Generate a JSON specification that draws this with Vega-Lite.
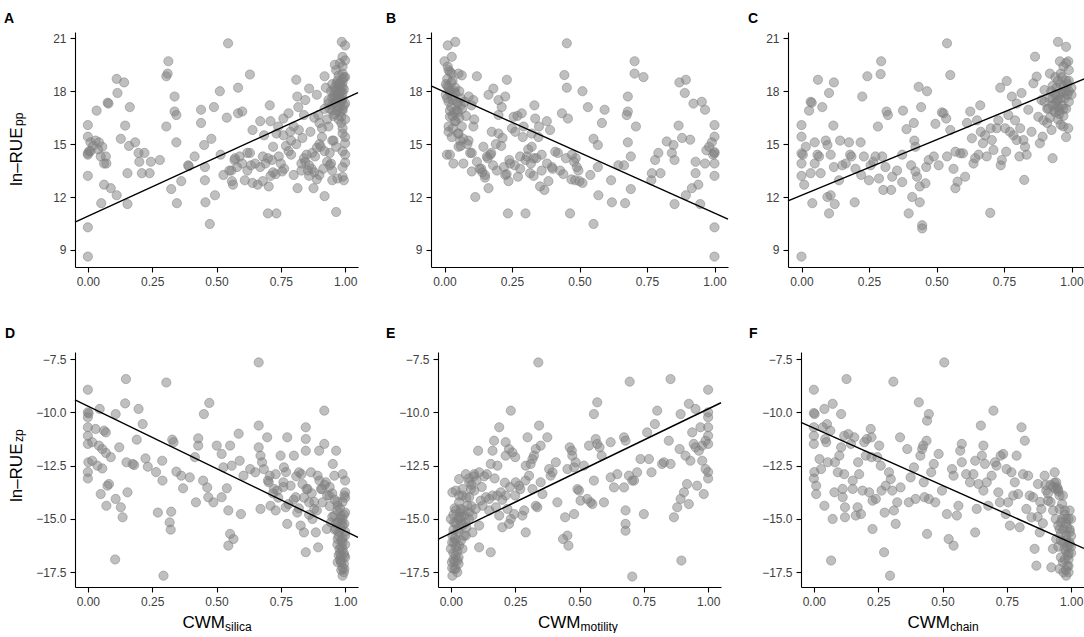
{
"$schema": "https://vega.github.io/schema/vega-lite/v6.json",
"background": "white",
"padding": {"left": 4, "top": 11, "right": 0, "bottom": 0},
"config": {
 "view": {"stroke": null},
 "font": "Liberation Sans",
 "axis": {"grid": false, "domainColor": "#000", "domainWidth": 1.1, "tickColor": "#000", "tickWidth": 1.1, "tickSize": 5, "labelFont": "Liberation Sans", "labelFontSize": 12, "labelColor": "#404040", "labelPadding": 4, "labelFlush": false, "labelOverlap": false, "titleFont": "Liberation Sans", "titleFontSize": 17, "titleFontWeight": "normal", "titleColor": "#000"},
 "title": {"font": "Liberation Sans", "fontSize": 14, "fontWeight": "bold", "color": "#000", "anchor": "start", "frame": "group", "baseline": "alphabetic"},
 "circle": {"size": 85, "fill": "#808080", "fillOpacity": 0.5, "stroke": "#808080", "strokeOpacity": 0.5, "strokeWidth": 1},
 "line": {"color": "#000", "strokeWidth": 1.4},
 "text": {"font": "Liberation Sans", "color": "#000"}
},
"datasets": {
"A": [{"x":0,"y":8.62},{"x":0,"y":10.28},{"x":0,"y":16.08},{"x":0,"y":15.42},{"x":0,"y":14.48},{"x":0.01,"y":14.6},{"x":0,"y":13.2},{"x":0.01,"y":15.1},{"x":0.034,"y":16.9},{"x":0.043,"y":15.1},{"x":0.056,"y":14.85},{"x":0.052,"y":11.65},{"x":0.063,"y":12.7},{"x":0.063,"y":13.9},{"x":0.077,"y":17.35},{"x":0.08,"y":17.3},{"x":0.07,"y":14.3},{"x":0.072,"y":13.9},{"x":0.089,"y":12.5},{"x":0.112,"y":12.1},{"x":0.112,"y":18.7},{"x":0.115,"y":17.9},{"x":0.141,"y":18.5},{"x":0.128,"y":15.3},{"x":0.145,"y":16.05},{"x":0.154,"y":13.35},{"x":0.154,"y":11.6},{"x":0.163,"y":17.1},{"x":0.16,"y":14.9},{"x":0.184,"y":15.1},{"x":0.197,"y":14.5},{"x":0.2,"y":14.0},{"x":0.21,"y":13.35},{"x":0.22,"y":14.5},{"x":0.24,"y":13.35},{"x":0.245,"y":14.0},{"x":0.28,"y":14.1},{"x":0.305,"y":18.85},{"x":0.31,"y":19.0},{"x":0.313,"y":19.7},{"x":0.305,"y":16.0},{"x":0.324,"y":12.45},{"x":0.337,"y":17.7},{"x":0.337,"y":16.85},{"x":0.344,"y":16.65},{"x":0.344,"y":15.1},{"x":0.346,"y":11.65},{"x":0.363,"y":12.9},{"x":0.39,"y":13.8},{"x":0.392,"y":13.75},{"x":0.415,"y":14.3},{"x":0.44,"y":16.95},{"x":0.44,"y":16.2},{"x":0.452,"y":14.95},{"x":0.455,"y":13.7},{"x":0.455,"y":12.95},{"x":0.457,"y":11.7},{"x":0.474,"y":10.47},{"x":0.48,"y":15.3},{"x":0.49,"y":17.1},{"x":0.494,"y":12.1},{"x":0.513,"y":18.0},{"x":0.516,"y":14.4},{"x":0.527,"y":13.25},{"x":0.545,"y":20.72},{"x":0.54,"y":16.5},{"x":0.558,"y":13.5},{"x":0.564,"y":12.7},{"x":0.572,"y":14.2},{"x":0.584,"y":18.2},{"x":0.584,"y":16.75},{"x":0.59,"y":14.3},{"x":0.6,"y":16.85},{"x":0.61,"y":12.95},{"x":0.62,"y":13.5},{"x":0.63,"y":18.95},{"x":0.63,"y":14.5},{"x":0.634,"y":13.8},{"x":0.64,"y":15.8},{"x":0.67,"y":16.3},{"x":0.68,"y":12.9},{"x":0.685,"y":15.5},{"x":0.7,"y":11.07},{"x":0.703,"y":12.6},{"x":0.707,"y":17.2},{"x":0.71,"y":16.3},{"x":0.716,"y":14.1},{"x":0.72,"y":14.85},{"x":0.733,"y":11.07},{"x":0.733,"y":15.6},{"x":0.742,"y":14.3},{"x":0.755,"y":13.45},{"x":0.76,"y":16.45},{"x":0.763,"y":13.6},{"x":0.78,"y":16.75},{"x":0.787,"y":15.7},{"x":0.79,"y":14.4},{"x":0.8,"y":13.25},{"x":0.81,"y":18.65},{"x":0.814,"y":17.7},{"x":0.815,"y":12.5},{"x":0.818,"y":17.1},{"x":0.83,"y":13.9},{"x":0.834,"y":15.35},{"x":0.84,"y":16.65},{"x":0.845,"y":17.5},{"x":0.855,"y":13.5},{"x":0.86,"y":18.15},{"x":0.865,"y":15.7},{"x":0.872,"y":14.5},{"x":0.877,"y":12.5},{"x":0.883,"y":14.3},{"x":0.89,"y":17.8},{"x":0.896,"y":16.65},{"x":0.9,"y":13.25},{"x":0.905,"y":14.85},{"x":0.915,"y":13.6},{"x":0.92,"y":12.05},{"x":0.92,"y":18.85},{"x":0.935,"y":17.5},{"x":0.935,"y":16.0},{"x":0.94,"y":14.5},{"x":0.95,"y":12.95},{"x":0.95,"y":15.2},{"x":0.965,"y":11.15},{"x":0.967,"y":18.45},{"x":0.97,"y":17.5},{"x":0.98,"y":18.0},{"x":0.985,"y":16.55},{"x":0.987,"y":20.8},{"x":1.0,"y":20.6},{"x":0.99,"y":19.95},{"x":1.0,"y":19.75},{"x":0.99,"y":19.4},{"x":0.99,"y":19.0},{"x":1.0,"y":18.8},{"x":0.98,"y":18.45},{"x":0.99,"y":18.25},{"x":0.995,"y":18.1},{"x":0.99,"y":17.9},{"x":0.97,"y":17.7},{"x":0.985,"y":17.5},{"x":1.0,"y":17.3},{"x":0.975,"y":17.1},{"x":0.99,"y":16.9},{"x":0.96,"y":17.3},{"x":0.95,"y":16.9},{"x":1.0,"y":16.4},{"x":0.99,"y":15.9},{"x":1.0,"y":15.4},{"x":1.0,"y":15.05},{"x":0.99,"y":14.6},{"x":1.0,"y":14.4},{"x":1.0,"y":13.95},{"x":0.99,"y":13.7},{"x":0.995,"y":12.95},{"x":0.99,"y":13.15},{"x":0.97,"y":13.05},{"x":0.955,"y":15.2},{"x":0.965,"y":14.85},{"x":0.945,"y":13.9},{"x":0.95,"y":17.2},{"x":0.96,"y":17.6},{"x":0.97,"y":18.1},{"x":0.98,"y":18.3},{"x":0.99,"y":18.5},{"x":0.975,"y":17.8},{"x":0.985,"y":17.4},{"x":0.96,"y":18.0},{"x":0.97,"y":16.9},{"x":0.99,"y":17.0},{"x":0.95,"y":18.4},{"x":0.965,"y":19.2},{"x":0.98,"y":19.6},{"x":0.995,"y":18.8},{"x":0.94,"y":17.0},{"x":0.955,"y":16.6},{"x":0.985,"y":16.2},{"x":0.93,"y":16.4},{"x":0.99,"y":15.6},{"x":0.975,"y":18.9},{"x":0.96,"y":19.5},{"x":0.945,"y":18.0},{"x":0.935,"y":17.3},{"x":0.925,"y":18.2},{"x":0.92,"y":17.0},{"x":0.84,"y":14.2},{"x":0.845,"y":14.0},{"x":0.85,"y":14.4},{"x":0.86,"y":13.8},{"x":0.87,"y":13.6},{"x":0.88,"y":13.4},{"x":0.89,"y":13.0},{"x":0.86,"y":13.2},{"x":0.9,"y":15.0},{"x":0.91,"y":15.4},{"x":0.92,"y":14.6},{"x":0.93,"y":14.0},{"x":0.94,"y":13.8},{"x":0.95,"y":13.5},{"x":0.9,"y":16.2},{"x":0.88,"y":16.5},{"x":0.91,"y":15.9},{"x":0.89,"y":14.8},{"x":0.8,"y":16.0},{"x":0.79,"y":15.2},{"x":0.78,"y":14.6},{"x":0.77,"y":14.9},{"x":0.76,"y":15.5},{"x":0.74,"y":16.0},{"x":0.73,"y":13.3},{"x":0.7,"y":14.2},{"x":0.69,"y":13.9},{"x":0.68,"y":14.3},{"x":0.67,"y":13.7},{"x":0.65,"y":13.9},{"x":0.66,"y":12.7},{"x":0.64,"y":12.8},{"x":0.62,"y":14.5},{"x":0.6,"y":13.9},{"x":0.58,"y":13.7},{"x":0.57,"y":14.1},{"x":0.56,"y":12.9},{"x":0.55,"y":13.5},{"x":0.72,"y":13.4},{"x":0.71,"y":13.2},{"x":0.75,"y":13.9},{"x":0.81,"y":15.0},{"x":0.82,"y":15.8},{"x":0.83,"y":13.5},{"x":0,"y":14.4},{"x":0.005,"y":14.6},{"x":0.02,"y":14.9},{"x":0.03,"y":15.2},{"x":0.04,"y":14.7},{"x":0.05,"y":14.3},{"x":0.97,"y":17.9},{"x":0.98,"y":17.6},{"x":0.96,"y":18.2},{"x":0.975,"y":18.4},{"x":0.985,"y":18.0},{"x":0.955,"y":17.8},{"x":0.965,"y":17.4},{"x":0.98,"y":16.8},{"x":0.99,"y":17.6},{"x":0.995,"y":17.2},{"x":0.97,"y":18.6},{"x":0.96,"y":16.7},{"x":0.95,"y":17.6},{"x":0.99,"y":18.7},{"x":0.975,"y":16.4}],
"B": [{"x":1,"y":8.62},{"x":1,"y":10.28},{"x":1,"y":16.08},{"x":1,"y":15.42},{"x":1,"y":14.48},{"x":1,"y":14.55},{"x":0.995,"y":14.4},{"x":1,"y":13.2},{"x":1,"y":13.9},{"x":0.99,"y":15.1},{"x":0.98,"y":14.85},{"x":0.965,"y":13.9},{"x":0.97,"y":14.65},{"x":0.947,"y":11.6},{"x":0.94,"y":12.7},{"x":0.965,"y":16.95},{"x":0.953,"y":17.4},{"x":0.93,"y":14.0},{"x":0.93,"y":13.35},{"x":0.916,"y":12.5},{"x":0.894,"y":12.1},{"x":0.922,"y":17.3},{"x":0.91,"y":15.25},{"x":0.894,"y":18.65},{"x":0.89,"y":17.9},{"x":0.87,"y":18.5},{"x":0.88,"y":15.35},{"x":0.867,"y":16.05},{"x":0.852,"y":11.6},{"x":0.852,"y":14.1},{"x":0.848,"y":14.95},{"x":0.842,"y":14.5},{"x":0.823,"y":15.15},{"x":0.8,"y":13.35},{"x":0.792,"y":14.5},{"x":0.78,"y":14.1},{"x":0.768,"y":13.35},{"x":0.766,"y":12.95},{"x":0.737,"y":18.8},{"x":0.704,"y":19.0},{"x":0.704,"y":19.7},{"x":0.709,"y":16.0},{"x":0.69,"y":14.3},{"x":0.69,"y":12.45},{"x":0.679,"y":17.7},{"x":0.679,"y":16.85},{"x":0.675,"y":16.65},{"x":0.679,"y":15.1},{"x":0.669,"y":11.65},{"x":0.665,"y":13.8},{"x":0.644,"y":13.8},{"x":0.617,"y":12.95},{"x":0.62,"y":11.7},{"x":0.593,"y":16.95},{"x":0.583,"y":16.2},{"x":0.568,"y":14.95},{"x":0.568,"y":13.7},{"x":0.57,"y":12.1},{"x":0.552,"y":10.47},{"x":0.552,"y":15.3},{"x":0.531,"y":17.1},{"x":0.54,"y":13.25},{"x":0.511,"y":18.0},{"x":0.511,"y":12.8},{"x":0.496,"y":13.5},{"x":0.486,"y":14.2},{"x":0.484,"y":12.95},{"x":0.472,"y":14.4},{"x":0.465,"y":11.07},{"x":0.457,"y":16.45},{"x":0.453,"y":20.72},{"x":0.453,"y":18.2},{"x":0.444,"y":18.92},{"x":0.435,"y":16.75},{"x":0.428,"y":13.5},{"x":0.41,"y":14.57},{"x":0.398,"y":13.7},{"x":0.391,"y":15.8},{"x":0.385,"y":12.9},{"x":0.379,"y":16.3},{"x":0.37,"y":12.4},{"x":0.36,"y":14.4},{"x":0.354,"y":12.6},{"x":0.348,"y":15.4},{"x":0.336,"y":16.45},{"x":0.333,"y":17.2},{"x":0.33,"y":14.2},{"x":0.323,"y":14.85},{"x":0.323,"y":15.6},{"x":0.317,"y":13.35},{"x":0.305,"y":14.3},{"x":0.3,"y":11.07},{"x":0.293,"y":16.0},{"x":0.286,"y":16.75},{"x":0.28,"y":13.6},{"x":0.272,"y":13.15},{"x":0.262,"y":15.7},{"x":0.256,"y":16.55},{"x":0.243,"y":13.9},{"x":0.237,"y":12.9},{"x":0.235,"y":11.07},{"x":0.231,"y":18.65},{"x":0.225,"y":17.7},{"x":0.225,"y":13.25},{"x":0.215,"y":15.35},{"x":0.212,"y":17.1},{"x":0.2,"y":16.65},{"x":0.2,"y":17.5},{"x":0.194,"y":13.5},{"x":0.181,"y":18.15},{"x":0.175,"y":15.7},{"x":0.173,"y":14.5},{"x":0.163,"y":12.5},{"x":0.157,"y":14.3},{"x":0.163,"y":17.8},{"x":0.15,"y":13.25},{"x":0.144,"y":14.85},{"x":0.136,"y":13.6},{"x":0.114,"y":12.0},{"x":0.12,"y":18.85},{"x":0.107,"y":17.5},{"x":0.107,"y":16.0},{"x":0.101,"y":14.5},{"x":0.101,"y":13.45},{"x":0.089,"y":15.2},{"x":0.07,"y":13.9},{"x":0.058,"y":15.2},{"x":0.052,"y":14.85},{"x":0.033,"y":13.9},{"x":0.009,"y":14.4},{"x":0.015,"y":16.0},{"x":0.04,"y":20.8},{"x":0.012,"y":20.6},{"x":0.027,"y":19.95},{"x":0,"y":19.7},{"x":0.012,"y":19.4},{"x":0.027,"y":19.0},{"x":0.052,"y":19.0},{"x":0.064,"y":18.9},{"x":0.02,"y":16.55},{"x":0.04,"y":16.3},{"x":0.015,"y":15.7},{"x":0.027,"y":15.4},{"x":0.052,"y":15.6},{"x":0.064,"y":16.0},{"x":0.01,"y":18.3},{"x":0.02,"y":18.0},{"x":0.03,"y":17.7},{"x":0.015,"y":17.4},{"x":0.025,"y":17.1},{"x":0.035,"y":16.8},{"x":0.045,"y":16.9},{"x":0.05,"y":17.3},{"x":0.06,"y":17.6},{"x":0.01,"y":18.7},{"x":0.02,"y":19.1},{"x":0.03,"y":18.6},{"x":0.04,"y":18.2},{"x":0.005,"y":17.8},{"x":0.055,"y":18.0},{"x":0.065,"y":17.0},{"x":0.075,"y":17.4},{"x":0.08,"y":16.6},{"x":0.09,"y":17.7},{"x":0.1,"y":17.2},{"x":0.11,"y":16.4},{"x":0.04,"y":16.3},{"x":0.03,"y":15.9},{"x":0.05,"y":15.6},{"x":0.07,"y":15.3},{"x":0.085,"y":15.0},{"x":0.095,"y":14.5},{"x":0.06,"y":14.9},{"x":0.02,"y":14.4},{"x":0.12,"y":14.0},{"x":0.13,"y":13.6},{"x":0.14,"y":13.4},{"x":0.15,"y":13.1},{"x":0.16,"y":14.2},{"x":0.17,"y":14.4},{"x":0.18,"y":13.8},{"x":0.19,"y":15.0},{"x":0.2,"y":15.6},{"x":0.21,"y":14.9},{"x":0.22,"y":13.7},{"x":0.23,"y":13.3},{"x":0.24,"y":14.1},{"x":0.26,"y":13.8},{"x":0.28,"y":14.3},{"x":0.3,"y":14.1},{"x":0.32,"y":13.9},{"x":0.34,"y":14.2},{"x":0.36,"y":13.5},{"x":0.38,"y":13.9},{"x":0.25,"y":15.9},{"x":0.27,"y":16.6},{"x":0.29,"y":15.4},{"x":0.31,"y":14.7},{"x":0.33,"y":13.2},{"x":0.35,"y":16.0},{"x":0.4,"y":13.6},{"x":0.42,"y":14.5},{"x":0.44,"y":13.3},{"x":0.47,"y":13.0},{"x":0.48,"y":14.0},{"x":0.49,"y":13.7},{"x":0.5,"y":12.9},{"x":0.45,"y":14.2},{"x":0.02,"y":17.9},{"x":0.03,"y":17.5},{"x":0.015,"y":18.2},{"x":0.025,"y":18.5},{"x":0.04,"y":17.9},{"x":0.045,"y":17.4},{"x":0.035,"y":18.0},{"x":0.05,"y":16.8},{"x":0.01,"y":17.6},{"x":0.005,"y":18.4},{"x":0.02,"y":16.9},{"x":0.06,"y":17.2},{"x":0.03,"y":16.6},{"x":0.055,"y":16.5},{"x":0.015,"y":19.2}],
"C": [{"x":0,"y":8.62},{"x":0,"y":16.08},{"x":0,"y":15.42},{"x":0,"y":14.48},{"x":0.005,"y":14.4},{"x":0,"y":13.9},{"x":0,"y":13.2},{"x":0.01,"y":12.7},{"x":0.016,"y":14.85},{"x":0.028,"y":16.9},{"x":0.034,"y":17.4},{"x":0.038,"y":17.35},{"x":0.04,"y":11.65},{"x":0.034,"y":13.35},{"x":0.049,"y":13.9},{"x":0.049,"y":15.1},{"x":0.059,"y":14.4},{"x":0.061,"y":18.65},{"x":0.077,"y":17.1},{"x":0.071,"y":13.35},{"x":0.065,"y":14.3},{"x":0.09,"y":15.2},{"x":0.096,"y":14.95},{"x":0.096,"y":12.0},{"x":0.102,"y":11.07},{"x":0.108,"y":12.1},{"x":0.102,"y":17.9},{"x":0.12,"y":18.5},{"x":0.118,"y":16.05},{"x":0.108,"y":14.4},{"x":0.12,"y":13.7},{"x":0.123,"y":11.6},{"x":0.139,"y":12.95},{"x":0.143,"y":15.2},{"x":0.151,"y":13.8},{"x":0.164,"y":13.9},{"x":0.176,"y":15.1},{"x":0.18,"y":14.4},{"x":0.185,"y":14.3},{"x":0.197,"y":11.7},{"x":0.2,"y":13.6},{"x":0.219,"y":15.1},{"x":0.221,"y":13.25},{"x":0.225,"y":17.7},{"x":0.231,"y":14.3},{"x":0.244,"y":18.85},{"x":0.25,"y":12.95},{"x":0.256,"y":13.8},{"x":0.266,"y":14.0},{"x":0.274,"y":14.3},{"x":0.283,"y":16.0},{"x":0.287,"y":13.05},{"x":0.293,"y":18.97},{"x":0.295,"y":19.7},{"x":0.299,"y":14.3},{"x":0.303,"y":12.4},{"x":0.315,"y":16.85},{"x":0.32,"y":16.65},{"x":0.311,"y":13.7},{"x":0.332,"y":12.4},{"x":0.336,"y":13.15},{"x":0.354,"y":13.5},{"x":0.373,"y":12.85},{"x":0.376,"y":16.9},{"x":0.373,"y":14.4},{"x":0.389,"y":15.85},{"x":0.397,"y":11.07},{"x":0.406,"y":13.8},{"x":0.41,"y":12.0},{"x":0.416,"y":16.2},{"x":0.418,"y":15.2},{"x":0.422,"y":14.85},{"x":0.422,"y":13.45},{"x":0.428,"y":13.15},{"x":0.434,"y":18.25},{"x":0.438,"y":12.6},{"x":0.438,"y":11.7},{"x":0.443,"y":17.1},{"x":0.447,"y":10.4},{"x":0.447,"y":10.22},{"x":0.459,"y":12.78},{"x":0.462,"y":13.7},{"x":0.465,"y":18.0},{"x":0.471,"y":14.1},{"x":0.49,"y":14.3},{"x":0.496,"y":16.15},{"x":0.508,"y":13.8},{"x":0.52,"y":16.8},{"x":0.526,"y":16.75},{"x":0.536,"y":16.45},{"x":0.539,"y":20.72},{"x":0.539,"y":14.3},{"x":0.551,"y":18.92},{"x":0.551,"y":15.8},{"x":0.563,"y":13.6},{"x":0.57,"y":12.5},{"x":0.57,"y":14.57},{"x":0.578,"y":12.87},{"x":0.588,"y":14.48},{"x":0.598,"y":14.48},{"x":0.606,"y":13.15},{"x":0.613,"y":16.2},{"x":0.625,"y":16.85},{"x":0.631,"y":15.33},{"x":0.637,"y":13.9},{"x":0.643,"y":14.2},{"x":0.65,"y":16.35},{"x":0.662,"y":17.2},{"x":0.664,"y":15.7},{"x":0.656,"y":14.4},{"x":0.672,"y":15.05},{"x":0.68,"y":15.5},{"x":0.686,"y":14.3},{"x":0.699,"y":11.1},{"x":0.705,"y":15.23},{"x":0.701,"y":15.9},{"x":0.711,"y":14.67},{"x":0.723,"y":15.9},{"x":0.729,"y":16.35},{"x":0.738,"y":13.8},{"x":0.742,"y":14.1},{"x":0.736,"y":18.2},{"x":0.758,"y":14.57},{"x":0.76,"y":18.58},{"x":0.754,"y":15.9},{"x":0.766,"y":16.65},{"x":0.772,"y":15.7},{"x":0.779,"y":17.7},{"x":0.785,"y":15.5},{"x":0.791,"y":16.35},{"x":0.797,"y":17.3},{"x":0.797,"y":15.23},{"x":0.807,"y":14.3},{"x":0.81,"y":15.9},{"x":0.815,"y":17.9},{"x":0.822,"y":15.23},{"x":0.825,"y":12.97},{"x":0.828,"y":14.85},{"x":0.834,"y":14.4},{"x":0.84,"y":16.95},{"x":0.852,"y":15.7},{"x":0.859,"y":18.45},{"x":0.865,"y":19.96},{"x":0.871,"y":18.83},{"x":0.877,"y":16.55},{"x":0.883,"y":15.05},{"x":0.889,"y":17.5},{"x":0.893,"y":15.42},{"x":0.896,"y":16.35},{"x":0.9,"y":18.07},{"x":0.92,"y":19.0},{"x":0.93,"y":14.2},{"x":0.914,"y":17.03},{"x":0.926,"y":15.8},{"x":0.95,"y":20.8},{"x":0.98,"y":20.52},{"x":0.957,"y":19.7},{"x":0.988,"y":19.7},{"x":0.97,"y":16.0},{"x":0.98,"y":15.4},{"x":0.988,"y":15.9},{"x":0.9,"y":17.4},{"x":0.91,"y":17.0},{"x":0.92,"y":17.6},{"x":0.93,"y":17.2},{"x":0.94,"y":16.8},{"x":0.95,"y":17.5},{"x":0.96,"y":17.9},{"x":0.97,"y":18.3},{"x":0.98,"y":18.0},{"x":0.99,"y":18.6},{"x":1.0,"y":18.2},{"x":0.95,"y":18.6},{"x":0.96,"y":19.0},{"x":0.97,"y":19.4},{"x":0.98,"y":19.6},{"x":0.99,"y":19.2},{"x":0.93,"y":18.3},{"x":0.94,"y":18.8},{"x":0.92,"y":16.5},{"x":0.91,"y":16.2},{"x":0.95,"y":16.4},{"x":0.97,"y":16.6},{"x":0.98,"y":17.0},{"x":0.99,"y":17.4},{"x":1.0,"y":17.8},{"x":0.96,"y":16.1},{"x":0.94,"y":17.8},{"x":0.925,"y":18.0},{"x":0.965,"y":17.2},{"x":0.975,"y":17.6},{"x":0.985,"y":18.4},{"x":0.955,"y":16.9},{"x":0.945,"y":17.4},{"x":0.95,"y":17.8},{"x":0.96,"y":17.6},{"x":0.97,"y":17.9},{"x":0.94,"y":17.3},{"x":0.96,"y":18.4},{"x":0.95,"y":17.1},{"x":0.97,"y":17.0},{"x":0.98,"y":18.6},{"x":0.935,"y":16.9},{"x":0.965,"y":18.8},{"x":0.945,"y":18.2},{"x":0.955,"y":16.7},{"x":0.985,"y":17.8},{"x":0.99,"y":18.0},{"x":0.93,"y":17.6}],
"D": [{"x":0.664,"y":-7.66},{"x":0,"y":-8.94},{"x":0,"y":-10.0},{"x":0.003,"y":-10.05},{"x":0,"y":-10.23},{"x":0,"y":-10.7},{"x":0,"y":-11.1},{"x":0,"y":-11.48},{"x":0.002,"y":-12.34},{"x":0,"y":-12.8},{"x":0,"y":-13.1},{"x":0.017,"y":-11.4},{"x":0.03,"y":-10.78},{"x":0.043,"y":-11.56},{"x":0.046,"y":-9.84},{"x":0.056,"y":-11.72},{"x":0.063,"y":-10.86},{"x":0.07,"y":-10.94},{"x":0.056,"y":-12.63},{"x":0.05,"y":-13.83},{"x":0.07,"y":-11.9},{"x":0.017,"y":-12.27},{"x":0.037,"y":-12.5},{"x":0.076,"y":-13.44},{"x":0.082,"y":-13.36},{"x":0.072,"y":-14.38},{"x":0.089,"y":-12.1},{"x":0.108,"y":-10.08},{"x":0.106,"y":-16.9},{"x":0.108,"y":-14.06},{"x":0.122,"y":-11.64},{"x":0.128,"y":-14.45},{"x":0.135,"y":-14.92},{"x":0.148,"y":-8.44},{"x":0.145,"y":-9.58},{"x":0.154,"y":-13.75},{"x":0.15,"y":-12.34},{"x":0.174,"y":-12.42},{"x":0.18,"y":-12.47},{"x":0.19,"y":-11.28},{"x":0.197,"y":-9.84},{"x":0.213,"y":-10.55},{"x":0.224,"y":-12.16},{"x":0.233,"y":-12.55},{"x":0.265,"y":-12.8},{"x":0.272,"y":-14.7},{"x":0.289,"y":-12.27},{"x":0.29,"y":-13.2},{"x":0.294,"y":-17.66},{"x":0.305,"y":-8.6},{"x":0.318,"y":-15.16},{"x":0.322,"y":-15.5},{"x":0.324,"y":-14.66},{"x":0.328,"y":-11.28},{"x":0.333,"y":-11.4},{"x":0.344,"y":-12.78},{"x":0.363,"y":-12.97},{"x":0.37,"y":-13.56},{"x":0.396,"y":-13.05},{"x":0.416,"y":-12.1},{"x":0.42,"y":-14.22},{"x":0.429,"y":-11.22},{"x":0.429,"y":-11.56},{"x":0.448,"y":-13.2},{"x":0.451,"y":-10.08},{"x":0.464,"y":-13.52},{"x":0.472,"y":-9.56},{"x":0.468,"y":-13.98},{"x":0.488,"y":-14.22},{"x":0.501,"y":-11.56},{"x":0.52,"y":-11.95},{"x":0.52,"y":-13.98},{"x":0.54,"y":-13.56},{"x":0.546,"y":-16.25},{"x":0.553,"y":-15.7},{"x":0.566,"y":-15.94},{"x":0.527,"y":-12.58},{"x":0.553,"y":-11.56},{"x":0.559,"y":-12.5},{"x":0.546,"y":-14.6},{"x":0.586,"y":-11.0},{"x":0.59,"y":-12.27},{"x":0.595,"y":-14.77},{"x":0.605,"y":-12.97},{"x":0.631,"y":-12.66},{"x":0.651,"y":-12.81},{"x":0.664,"y":-10.62},{"x":0.664,"y":-11.64},{"x":0.671,"y":-12.03},{"x":0.677,"y":-12.34},{"x":0.671,"y":-14.53},{"x":0.684,"y":-12.66},{"x":0.697,"y":-11.17},{"x":0.703,"y":-13.28},{"x":0.707,"y":-12.97},{"x":0.71,"y":-14.38},{"x":0.723,"y":-13.59},{"x":0.73,"y":-14.6},{"x":0.736,"y":-13.67},{"x":0.749,"y":-12.03},{"x":0.76,"y":-13.28},{"x":0.762,"y":-12.58},{"x":0.775,"y":-11.17},{"x":0.769,"y":-14.45},{"x":0.775,"y":-15.23},{"x":0.788,"y":-13.44},{"x":0.801,"y":-12.03},{"x":0.808,"y":-13.98},{"x":0.814,"y":-14.7},{"x":0.821,"y":-12.81},{"x":0.827,"y":-15.31},{"x":0.834,"y":-13.36},{"x":0.84,"y":-15.63},{"x":0.847,"y":-10.7},{"x":0.847,"y":-11.25},{"x":0.847,"y":-11.8},{"x":0.847,"y":-16.56},{"x":0.854,"y":-13.59},{"x":0.86,"y":-14.22},{"x":0.867,"y":-12.81},{"x":0.873,"y":-15.0},{"x":0.88,"y":-14.53},{"x":0.886,"y":-15.63},{"x":0.893,"y":-12.97},{"x":0.895,"y":-16.33},{"x":0.899,"y":-11.8},{"x":0.906,"y":-13.59},{"x":0.912,"y":-14.22},{"x":0.919,"y":-9.92},{"x":0.919,"y":-11.48},{"x":0.925,"y":-13.28},{"x":0.929,"y":-15.47},{"x":0.939,"y":-13.9},{"x":0.952,"y":-12.42},{"x":0.958,"y":-12.97},{"x":0.965,"y":-11.8},{"x":0.971,"y":-14.38},{"x":0.984,"y":-14.84},{"x":0.99,"y":-17.66},{"x":0.997,"y":-17.34},{"x":0.984,"y":-17.03},{"x":0.997,"y":-16.72},{"x":0.978,"y":-16.4},{"x":0.99,"y":-16.1},{"x":1.0,"y":-15.78},{"x":0.984,"y":-15.47},{"x":0.971,"y":-15.16},{"x":0.997,"y":-15.23},{"x":1.0,"y":-14.7},{"x":0.997,"y":-13.9},{"x":1.0,"y":-13.2},{"x":1.0,"y":-13.75},{"x":0.99,"y":-12.9},{"x":0.958,"y":-14.84},{"x":0.945,"y":-15.16},{"x":0.965,"y":-15.47},{"x":0.971,"y":-15.94},{"x":0.984,"y":-16.72},{"x":0.971,"y":-17.03},{"x":0.94,"y":-13.5},{"x":0.95,"y":-13.8},{"x":0.96,"y":-14.1},{"x":0.97,"y":-14.6},{"x":0.98,"y":-15.0},{"x":0.99,"y":-15.3},{"x":1.0,"y":-15.6},{"x":0.985,"y":-16.0},{"x":0.99,"y":-16.4},{"x":1.0,"y":-16.8},{"x":0.995,"y":-17.1},{"x":0.985,"y":-17.4},{"x":0.97,"y":-16.2},{"x":0.98,"y":-16.6},{"x":0.96,"y":-15.5},{"x":0.95,"y":-14.9},{"x":0.94,"y":-14.4},{"x":0.93,"y":-13.9},{"x":0.92,"y":-13.4},{"x":0.91,"y":-13.6},{"x":0.9,"y":-13.2},{"x":0.99,"y":-14.2},{"x":1.0,"y":-14.0},{"x":0.975,"y":-15.8},{"x":0.965,"y":-15.2},{"x":0.72,"y":-13.8},{"x":0.74,"y":-14.0},{"x":0.76,"y":-13.5},{"x":0.78,"y":-14.3},{"x":0.8,"y":-14.1},{"x":0.82,"y":-14.5},{"x":0.84,"y":-14.0},{"x":0.86,"y":-14.8},{"x":0.88,"y":-14.2},{"x":0.7,"y":-13.2},{"x":0.73,"y":-12.9},{"x":0.77,"y":-12.8},{"x":0.81,"y":-13.0},{"x":0.83,"y":-12.9},{"x":0.85,"y":-13.6},{"x":0.87,"y":-13.8},{"x":0.89,"y":-14.6},{"x":0.99,"y":-15.9},{"x":0.985,"y":-16.3},{"x":0.995,"y":-16.6},{"x":0.98,"y":-16.9},{"x":0.99,"y":-17.3},{"x":0.975,"y":-15.6},{"x":0.985,"y":-15.2},{"x":0.995,"y":-14.8},{"x":0.98,"y":-14.5},{"x":0.97,"y":-14.2},{"x":0.99,"y":-15.0},{"x":1.0,"y":-16.2},{"x":0.985,"y":-17.0},{"x":0.975,"y":-16.7},{"x":0.995,"y":-17.5}],
"E": [{"x":0.34,"y":-7.66},{"x":0.233,"y":-9.92},{"x":0.188,"y":-10.7},{"x":0.168,"y":-11.33},{"x":0.106,"y":-11.8},{"x":0.162,"y":-11.8},{"x":0.213,"y":-11.4},{"x":0.226,"y":-11.72},{"x":0.239,"y":-11.88},{"x":0.25,"y":-12.1},{"x":0.213,"y":-12.03},{"x":0.181,"y":-12.5},{"x":0.155,"y":-12.42},{"x":0.11,"y":-12.81},{"x":0.091,"y":-12.9},{"x":0.058,"y":-12.9},{"x":0.032,"y":-13.13},{"x":0.071,"y":-13.28},{"x":0.078,"y":-13.6},{"x":0.091,"y":-13.67},{"x":0.045,"y":-13.6},{"x":0.019,"y":-13.67},{"x":0.006,"y":-13.75},{"x":0.032,"y":-13.9},{"x":0.071,"y":-13.98},{"x":0.116,"y":-14.14},{"x":0.136,"y":-13.98},{"x":0.149,"y":-14.06},{"x":0.162,"y":-13.9},{"x":0.123,"y":-14.38},{"x":0.149,"y":-14.6},{"x":0.175,"y":-14.45},{"x":0.188,"y":-14.84},{"x":0.194,"y":-13.75},{"x":0.213,"y":-13.9},{"x":0.22,"y":-14.53},{"x":0.2,"y":-15.39},{"x":0.226,"y":-15.23},{"x":0.233,"y":-15.0},{"x":0.246,"y":-14.77},{"x":0.252,"y":-13.28},{"x":0.265,"y":-13.44},{"x":0.278,"y":-14.84},{"x":0.285,"y":-14.6},{"x":0.291,"y":-15.63},{"x":0.291,"y":-12.5},{"x":0.298,"y":-11.17},{"x":0.304,"y":-12.97},{"x":0.31,"y":-12.42},{"x":0.317,"y":-12.19},{"x":0.323,"y":-12.03},{"x":0.33,"y":-11.72},{"x":0.343,"y":-10.62},{"x":0.349,"y":-11.56},{"x":0.317,"y":-13.6},{"x":0.33,"y":-14.38},{"x":0.336,"y":-14.45},{"x":0.349,"y":-13.28},{"x":0.356,"y":-13.83},{"x":0.375,"y":-11.17},{"x":0.382,"y":-12.66},{"x":0.388,"y":-12.97},{"x":0.395,"y":-12.81},{"x":0.408,"y":-12.34},{"x":0.414,"y":-14.22},{"x":0.444,"y":-14.92},{"x":0.436,"y":-15.94},{"x":0.453,"y":-15.78},{"x":0.457,"y":-16.25},{"x":0.453,"y":-12.66},{"x":0.462,"y":-11.64},{"x":0.47,"y":-11.8},{"x":0.472,"y":-12.03},{"x":0.479,"y":-12.58},{"x":0.485,"y":-12.34},{"x":0.492,"y":-13.6},{"x":0.498,"y":-13.67},{"x":0.479,"y":-14.77},{"x":0.504,"y":-14.14},{"x":0.517,"y":-12.5},{"x":0.537,"y":-11.56},{"x":0.53,"y":-14.06},{"x":0.543,"y":-14.22},{"x":0.55,"y":-14.3},{"x":0.556,"y":-13.2},{"x":0.556,"y":-10.08},{"x":0.569,"y":-9.53},{"x":0.563,"y":-11.25},{"x":0.569,"y":-11.48},{"x":0.578,"y":-11.64},{"x":0.586,"y":-12.03},{"x":0.595,"y":-14.22},{"x":0.621,"y":-11.4},{"x":0.621,"y":-13.05},{"x":0.634,"y":-13.52},{"x":0.647,"y":-12.9},{"x":0.673,"y":-11.17},{"x":0.679,"y":-11.33},{"x":0.673,"y":-13.52},{"x":0.679,"y":-14.6},{"x":0.679,"y":-15.23},{"x":0.679,"y":-15.55},{"x":0.692,"y":-12.97},{"x":0.695,"y":-8.56},{"x":0.705,"y":-13.2},{"x":0.712,"y":-13.2},{"x":0.705,"y":-17.7},{"x":0.724,"y":-12.81},{"x":0.737,"y":-12.19},{"x":0.75,"y":-14.77},{"x":0.763,"y":-10.94},{"x":0.77,"y":-12.19},{"x":0.78,"y":-12.81},{"x":0.793,"y":-10.55},{"x":0.802,"y":-9.92},{"x":0.821,"y":-12.42},{"x":0.828,"y":-12.34},{"x":0.854,"y":-8.44},{"x":0.847,"y":-11.33},{"x":0.854,"y":-12.42},{"x":0.867,"y":-14.92},{"x":0.88,"y":-14.45},{"x":0.889,"y":-11.72},{"x":0.893,"y":-10.08},{"x":0.893,"y":-14.06},{"x":0.896,"y":-16.95},{"x":0.906,"y":-13.75},{"x":0.912,"y":-12.03},{"x":0.918,"y":-13.36},{"x":0.925,"y":-9.6},{"x":0.925,"y":-14.3},{"x":0.931,"y":-12.27},{"x":0.938,"y":-10.94},{"x":0.944,"y":-11.48},{"x":0.951,"y":-9.84},{"x":0.951,"y":-11.64},{"x":0.957,"y":-13.44},{"x":0.964,"y":-11.8},{"x":0.97,"y":-10.7},{"x":0.977,"y":-12.27},{"x":0.983,"y":-13.83},{"x":0.977,"y":-11.56},{"x":0.99,"y":-11.33},{"x":1,"y":-8.94},{"x":1,"y":-10.0},{"x":1,"y":-10.23},{"x":1,"y":-10.7},{"x":1,"y":-11.1},{"x":1,"y":-11.48},{"x":1,"y":-12.8},{"x":1,"y":-13.1},{"x":0.99,"y":-12.66},{"x":0.006,"y":-17.66},{"x":0.013,"y":-17.34},{"x":0.004,"y":-17.03},{"x":0.019,"y":-16.72},{"x":0,"y":-16.4},{"x":0.013,"y":-16.1},{"x":0.032,"y":-16.25},{"x":0.045,"y":-16.4},{"x":0.006,"y":-15.78},{"x":0.026,"y":-15.47},{"x":0.045,"y":-15.31},{"x":0.058,"y":-15.16},{"x":0.013,"y":-15.16},{"x":0.032,"y":-14.92},{"x":0.052,"y":-14.84},{"x":0.071,"y":-14.69},{"x":0.019,"y":-14.6},{"x":0.039,"y":-14.53},{"x":0.065,"y":-14.38},{"x":0.084,"y":-14.84},{"x":0.097,"y":-14.53},{"x":0.11,"y":-15.31},{"x":0.084,"y":-15.63},{"x":0.11,"y":-16.33},{"x":0.155,"y":-16.56},{"x":0.058,"y":-15.78},{"x":0,"y":-15.0},{"x":0.032,"y":-14.22},{"x":0.045,"y":-13.9},{"x":0.019,"y":-17.34},{"x":0.026,"y":-16.95},{"x":0.07,"y":-13.1},{"x":0.08,"y":-13.4},{"x":0.09,"y":-13.0},{"x":0.1,"y":-13.2},{"x":0.12,"y":-13.5},{"x":0.13,"y":-13.0},{"x":0.14,"y":-12.9},{"x":0.17,"y":-13.1},{"x":0.18,"y":-13.9},{"x":0.2,"y":-14.1},{"x":0.21,"y":-13.3},{"x":0.23,"y":-13.5},{"x":0.25,"y":-13.9},{"x":0.27,"y":-13.6},{"x":0.29,"y":-13.2},{"x":0.06,"y":-14.0},{"x":0.04,"y":-15.2},{"x":0.05,"y":-14.6},{"x":0.03,"y":-15.6},{"x":0.02,"y":-16.0},{"x":0.01,"y":-16.6},{"x":0.015,"y":-17.0},{"x":0.03,"y":-16.8},{"x":0.04,"y":-16.0},{"x":0.05,"y":-15.8},{"x":0.06,"y":-15.4},{"x":0.07,"y":-15.0},{"x":0.08,"y":-14.4},{"x":0.01,"y":-15.5},{"x":0.015,"y":-15.9},{"x":0.02,"y":-16.3},{"x":0.025,"y":-16.5},{"x":0.01,"y":-16.9},{"x":0.005,"y":-17.3},{"x":0.02,"y":-15.2},{"x":0.03,"y":-15.0},{"x":0.035,"y":-14.7},{"x":0.04,"y":-14.9},{"x":0.01,"y":-14.8},{"x":0.005,"y":-16.1},{"x":0.03,"y":-17.1},{"x":0.025,"y":-17.5},{"x":0.015,"y":-14.5}],
"F": [{"x":0.507,"y":-7.66},{"x":0,"y":-8.94},{"x":0,"y":-10.03},{"x":0.003,"y":-10.08},{"x":0,"y":-10.7},{"x":0,"y":-11.1},{"x":0,"y":-11.48},{"x":0.002,"y":-12.8},{"x":0,"y":-13.1},{"x":0.009,"y":-13.44},{"x":0.009,"y":-13.83},{"x":0.022,"y":-12.19},{"x":0.028,"y":-12.66},{"x":0.035,"y":-10.7},{"x":0.041,"y":-9.84},{"x":0.044,"y":-11.25},{"x":0.048,"y":-11.4},{"x":0.041,"y":-14.38},{"x":0.051,"y":-10.55},{"x":0.054,"y":-12.34},{"x":0.064,"y":-10.86},{"x":0.067,"y":-16.95},{"x":0.073,"y":-9.6},{"x":0.073,"y":-15.0},{"x":0.08,"y":-13.75},{"x":0.082,"y":-12.34},{"x":0.093,"y":-12.81},{"x":0.099,"y":-12.03},{"x":0.106,"y":-10.08},{"x":0.106,"y":-11.64},{"x":0.112,"y":-13.59},{"x":0.112,"y":-13.98},{"x":0.118,"y":-11.1},{"x":0.118,"y":-12.9},{"x":0.121,"y":-14.45},{"x":0.121,"y":-14.92},{"x":0.127,"y":-8.44},{"x":0.134,"y":-11.02},{"x":0.144,"y":-11.48},{"x":0.151,"y":-13.2},{"x":0.151,"y":-13.59},{"x":0.157,"y":-11.17},{"x":0.163,"y":-14.84},{"x":0.17,"y":-14.45},{"x":0.172,"y":-12.34},{"x":0.176,"y":-12.9},{"x":0.183,"y":-14.77},{"x":0.189,"y":-13.67},{"x":0.196,"y":-11.4},{"x":0.202,"y":-12.03},{"x":0.206,"y":-11.25},{"x":0.215,"y":-13.75},{"x":0.221,"y":-10.78},{"x":0.224,"y":-11.17},{"x":0.224,"y":-12.1},{"x":0.228,"y":-14.14},{"x":0.228,"y":-15.47},{"x":0.241,"y":-14.06},{"x":0.247,"y":-12.1},{"x":0.254,"y":-11.56},{"x":0.26,"y":-12.5},{"x":0.263,"y":-13.67},{"x":0.273,"y":-16.56},{"x":0.275,"y":-14.7},{"x":0.279,"y":-13.44},{"x":0.292,"y":-12.81},{"x":0.296,"y":-17.66},{"x":0.299,"y":-13.13},{"x":0.305,"y":-13.67},{"x":0.309,"y":-8.56},{"x":0.311,"y":-14.6},{"x":0.318,"y":-15.23},{"x":0.324,"y":-14.22},{"x":0.335,"y":-11.17},{"x":0.337,"y":-13.52},{"x":0.363,"y":-11.72},{"x":0.369,"y":-14.22},{"x":0.376,"y":-13.05},{"x":0.389,"y":-12.58},{"x":0.395,"y":-14.06},{"x":0.408,"y":-9.53},{"x":0.414,"y":-12.03},{"x":0.421,"y":-11.72},{"x":0.425,"y":-11.56},{"x":0.427,"y":-13.28},{"x":0.43,"y":-13.98},{"x":0.438,"y":-11.33},{"x":0.44,"y":-10.39},{"x":0.447,"y":-10.08},{"x":0.44,"y":-15.7},{"x":0.447,"y":-14.06},{"x":0.456,"y":-12.81},{"x":0.466,"y":-12.42},{"x":0.472,"y":-14.22},{"x":0.485,"y":-11.95},{"x":0.498,"y":-13.67},{"x":0.517,"y":-14.77},{"x":0.524,"y":-15.94},{"x":0.537,"y":-12.66},{"x":0.543,"y":-16.25},{"x":0.543,"y":-12.97},{"x":0.556,"y":-14.84},{"x":0.562,"y":-14.38},{"x":0.569,"y":-11.8},{"x":0.575,"y":-11.48},{"x":0.575,"y":-12.34},{"x":0.592,"y":-12.9},{"x":0.607,"y":-13.28},{"x":0.62,"y":-12.9},{"x":0.627,"y":-12.27},{"x":0.627,"y":-15.63},{"x":0.633,"y":-14.53},{"x":0.64,"y":-13.36},{"x":0.649,"y":-10.62},{"x":0.653,"y":-12.03},{"x":0.659,"y":-11.56},{"x":0.659,"y":-13.67},{"x":0.665,"y":-12.42},{"x":0.672,"y":-13.28},{"x":0.678,"y":-14.38},{"x":0.691,"y":-12.97},{"x":0.698,"y":-9.92},{"x":0.704,"y":-12.34},{"x":0.71,"y":-12.5},{"x":0.717,"y":-13.75},{"x":0.723,"y":-14.22},{"x":0.726,"y":-12.03},{"x":0.736,"y":-11.95},{"x":0.746,"y":-14.77},{"x":0.749,"y":-12.66},{"x":0.755,"y":-14.22},{"x":0.762,"y":-15.31},{"x":0.768,"y":-12.81},{"x":0.775,"y":-13.9},{"x":0.781,"y":-13.28},{"x":0.788,"y":-12.03},{"x":0.794,"y":-13.83},{"x":0.8,"y":-15.39},{"x":0.807,"y":-10.7},{"x":0.813,"y":-12.9},{"x":0.82,"y":-11.33},{"x":0.826,"y":-14.53},{"x":0.833,"y":-12.97},{"x":0.839,"y":-13.9},{"x":0.846,"y":-14.92},{"x":0.852,"y":-13.98},{"x":0.858,"y":-16.4},{"x":0.865,"y":-17.19},{"x":0.871,"y":-13.36},{"x":0.878,"y":-15.63},{"x":0.884,"y":-14.53},{"x":0.897,"y":-12.97},{"x":0.903,"y":-13.67},{"x":0.91,"y":-14.14},{"x":0.923,"y":-17.27},{"x":0.936,"y":-12.81},{"x":0.942,"y":-13.28},{"x":0.949,"y":-13.6},{"x":0.955,"y":-14.53},{"x":0.961,"y":-15.16},{"x":0.968,"y":-13.9},{"x":0.955,"y":-17.34},{"x":0.981,"y":-17.66},{"x":0.968,"y":-17.03},{"x":0.987,"y":-16.72},{"x":0.974,"y":-16.4},{"x":0.994,"y":-16.1},{"x":0.981,"y":-15.78},{"x":0.994,"y":-15.47},{"x":0.981,"y":-15.0},{"x":1.0,"y":-15.0},{"x":0.994,"y":-14.6},{"x":0.955,"y":-15.47},{"x":0.942,"y":-15.94},{"x":0.929,"y":-16.4},{"x":0.9,"y":-13.4},{"x":0.91,"y":-13.8},{"x":0.92,"y":-14.2},{"x":0.93,"y":-14.6},{"x":0.94,"y":-15.0},{"x":0.95,"y":-15.3},{"x":0.96,"y":-15.7},{"x":0.97,"y":-16.1},{"x":0.98,"y":-16.5},{"x":0.99,"y":-16.9},{"x":1.0,"y":-16.6},{"x":0.99,"y":-17.2},{"x":0.985,"y":-15.4},{"x":0.975,"y":-14.8},{"x":0.965,"y":-14.3},{"x":0.955,"y":-13.9},{"x":0.945,"y":-13.5},{"x":0.935,"y":-13.3},{"x":0.995,"y":-16.2},{"x":1.0,"y":-15.8},{"x":0.97,"y":-17.5},{"x":0.96,"y":-16.8},{"x":0.95,"y":-16.3},{"x":0.88,"y":-14.2},{"x":0.87,"y":-14.9},{"x":0.89,"y":-15.2},{"x":0.98,"y":-16.0},{"x":0.985,"y":-16.3},{"x":0.99,"y":-16.6},{"x":0.975,"y":-16.9},{"x":0.985,"y":-17.2},{"x":0.97,"y":-15.5},{"x":0.98,"y":-15.2},{"x":0.99,"y":-15.0},{"x":0.995,"y":-15.6},{"x":0.975,"y":-14.6},{"x":0.965,"y":-15.0},{"x":1.0,"y":-16.3},{"x":0.98,"y":-17.4},{"x":0.99,"y":-17.5},{"x":0.96,"y":-16.0},{"x":0.92,"y":-13.4},{"x":0.93,"y":-13.5},{"x":0.94,"y":-13.6},{"x":0.95,"y":-13.7}]
},
"spacing": 39,
"vconcat": [
 {"bounds": "flush", "spacing": 73, "hconcat": [
  {"width": 283, "height": 235,
   "title": {"text": "A", "dx": -71, "offset": 6.5},
   "encoding": {
    "x": {"field": "x", "type": "quantitative", "scale": {"domain": [-0.05, 1.05], "nice": false, "zero": false}, "axis": {"values": [0, 0.25, 0.5, 0.75, 1], "format": ".2f", "title": null}},
    "y": {"field": "y", "type": "quantitative", "scale": {"domain": [8.03, 21.36], "nice": false, "zero": false}, "axis": {"values": [9, 12, 15, 18, 21], "format": "d", "title": "ln–RUE", "titleX": -54, "titleY": 95, "titleAngle": 270, "titleAlign": "right", "titleBaseline": "alphabetic"}}
   },
   "layer": [
    {"data": {"name": "A"}, "mark": {"type": "circle"}},
    {"data": {"values": [{"x": -0.05, "y": 10.57}, {"x": 1.05, "y": 17.92}]}, "mark": {"type": "line"}},
    {"data": {"values": [{"t": "pp"}]}, "mark": {"type": "text", "angle": 270, "align": "left", "baseline": "alphabetic", "fontSize": 12}, "encoding": {"text": {"field": "t"}, "x": {"value": -52}, "y": {"value": 94}}}
   ]
  },
  {"bounds": "flush", "spacing": 60, "hconcat": [
   {"width": 297, "height": 235,
    "title": {"text": "B", "dx": -45, "offset": 6.5},
    "encoding": {
     "x": {"field": "x", "type": "quantitative", "scale": {"domain": [-0.05, 1.05], "nice": false, "zero": false}, "axis": {"values": [0, 0.25, 0.5, 0.75, 1], "format": ".2f", "title": null}},
     "y": {"field": "y", "type": "quantitative", "scale": {"domain": [8.03, 21.36], "nice": false, "zero": false}, "axis": {"values": [9, 12, 15, 18, 21], "format": "d", "title": null}}
    },
    "layer": [
     {"data": {"name": "B"}, "mark": {"type": "circle"}},
     {"data": {"values": [{"x": -0.05, "y": 18.3}, {"x": 1.05, "y": 10.74}]}, "mark": {"type": "line"}}
    ]
   },
   {"width": 297, "height": 235,
    "title": {"text": "C", "dx": -40, "offset": 6.5},
    "encoding": {
     "x": {"field": "x", "type": "quantitative", "scale": {"domain": [-0.05, 1.05], "nice": false, "zero": false}, "axis": {"values": [0, 0.25, 0.5, 0.75, 1], "format": ".2f", "title": null}},
     "y": {"field": "y", "type": "quantitative", "scale": {"domain": [8.03, 21.36], "nice": false, "zero": false}, "axis": {"values": [9, 12, 15, 18, 21], "format": "d", "title": null}}
    },
    "layer": [
     {"data": {"name": "C"}, "mark": {"type": "circle"}},
     {"data": {"values": [{"x": -0.05, "y": 11.78}, {"x": 1.05, "y": 18.72}]}, "mark": {"type": "line"}}
    ]
   }
  ]}
 ]},
 {"bounds": "flush", "spacing": 80, "hconcat": [
  {"width": 283, "height": 235,
   "title": {"text": "D", "dx": -70, "offset": 11.5},
   "encoding": {
    "x": {"field": "x", "type": "quantitative", "scale": {"domain": [-0.05, 1.05], "nice": false, "zero": false}, "axis": {"values": [0, 0.25, 0.5, 0.75, 1], "format": ".2f", "title": "CWM", "titleX": 149.5, "titleY": 40, "titleAlign": "right", "titleBaseline": "alphabetic"}},
    "y": {"field": "y", "type": "quantitative", "scale": {"domain": [-18.19, -7.17], "nice": false, "zero": false}, "axis": {"values": [-17.5, -15, -12.5, -10, -7.5], "format": ".1f", "title": "ln–RUE", "titleX": -54, "titleY": 91, "titleAngle": 270, "titleAlign": "right", "titleBaseline": "alphabetic"}}
   },
   "layer": [
    {"data": {"name": "D"}, "mark": {"type": "circle"}},
    {"data": {"values": [{"x": -0.05, "y": -9.41}, {"x": 1.05, "y": -15.86}]}, "mark": {"type": "line"}},
    {"data": {"values": [{"t": "zp"}]}, "mark": {"type": "text", "angle": 270, "align": "left", "baseline": "alphabetic", "fontSize": 12}, "encoding": {"text": {"field": "t"}, "x": {"value": -52}, "y": {"value": 90}}},
    {"data": {"values": [{"t": "silica"}]}, "mark": {"type": "text", "align": "left", "baseline": "alphabetic", "fontSize": 12}, "encoding": {"text": {"field": "t"}, "x": {"value": 150}, "y": {"value": 279}}}
   ]
  },
  {"width": 283, "height": 235,
   "title": {"text": "E", "dx": -52, "offset": 11.5},
   "encoding": {
    "x": {"field": "x", "type": "quantitative", "scale": {"domain": [-0.05, 1.05], "nice": false, "zero": false}, "axis": {"values": [0, 0.25, 0.5, 0.75, 1], "format": ".2f", "title": "CWM", "titleX": 142, "titleY": 40, "titleAlign": "right", "titleBaseline": "alphabetic"}},
    "y": {"field": "y", "type": "quantitative", "scale": {"domain": [-18.19, -7.17], "nice": false, "zero": false}, "axis": {"values": [-17.5, -15, -12.5, -10, -7.5], "format": ".1f", "title": null}}
   },
   "layer": [
    {"data": {"name": "E"}, "mark": {"type": "circle"}},
    {"data": {"values": [{"x": -0.05, "y": -15.96}, {"x": 1.05, "y": -9.55}]}, "mark": {"type": "line"}},
    {"data": {"values": [{"t": "motility"}]}, "mark": {"type": "text", "align": "left", "baseline": "alphabetic", "fontSize": 12}, "encoding": {"text": {"field": "t"}, "x": {"value": 142.5}, "y": {"value": 279}}}
   ]
  },
  {"width": 283, "height": 235,
   "title": {"text": "F", "dx": -52, "offset": 11.5},
   "encoding": {
    "x": {"field": "x", "type": "quantitative", "scale": {"domain": [-0.05, 1.05], "nice": false, "zero": false}, "axis": {"values": [0, 0.25, 0.5, 0.75, 1], "format": ".2f", "title": "CWM", "titleX": 148.5, "titleY": 40, "titleAlign": "right", "titleBaseline": "alphabetic"}},
    "y": {"field": "y", "type": "quantitative", "scale": {"domain": [-18.19, -7.17], "nice": false, "zero": false}, "axis": {"values": [-17.5, -15, -12.5, -10, -7.5], "format": ".1f", "title": null}}
   },
   "layer": [
    {"data": {"name": "F"}, "mark": {"type": "circle"}},
    {"data": {"values": [{"x": -0.05, "y": -10.47}, {"x": 1.05, "y": -16.38}]}, "mark": {"type": "line"}},
    {"data": {"values": [{"t": "chain"}]}, "mark": {"type": "text", "align": "left", "baseline": "alphabetic", "fontSize": 12}, "encoding": {"text": {"field": "t"}, "x": {"value": 149}, "y": {"value": 279}}}
   ]
  }
 ]}
]
}
